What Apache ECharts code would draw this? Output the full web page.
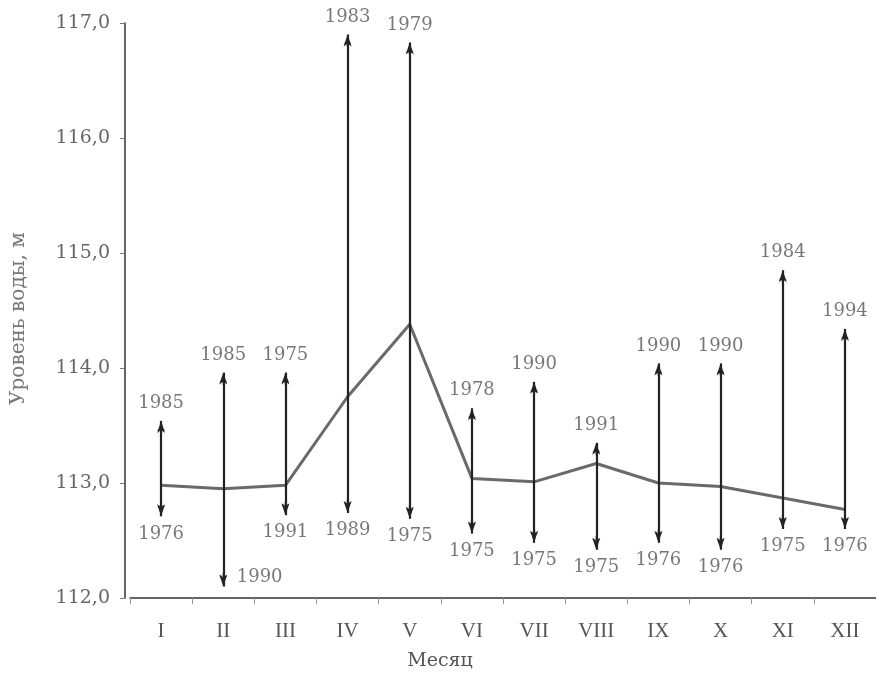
<!DOCTYPE html>
<html>
<head>
<meta charset="utf-8">
<script src="https://cdn.jsdelivr.net/npm/echarts@6/dist/echarts.min.js"></script>
<style>html,body{margin:0;padding:0;background:#fff}#c{width:876px;height:675px}</style>
</head>
<body>
<div id="c"></div>
<script>
const months = ['I','II','III','IV','V','VI','VII','VIII','IX','X','XI','XII'];
const meanLevel = [112.98,112.95,112.98,113.75,114.38,113.04,113.01,113.17,113.0,112.97,112.87,112.77];
const maxLevel = [113.54,113.96,113.96,116.9,116.83,113.65,113.88,113.35,114.04,114.04,114.85,114.34];
const minLevel = [112.71,112.1,112.72,112.74,112.69,112.56,112.48,112.42,112.48,112.42,112.6,112.6];
const maxYear = ['1985','1985','1975','1983','1979','1978','1990','1991','1990','1990','1984','1994'];
const minYear = ['1976','1990','1991','1989','1975','1975','1975','1975','1976','1976','1975','1976'];
const yTicks = [112,113,114,115,116,117];

const serifWide = 'DejaVu Serif';
const serif = 'Liberation Serif';
const textColor = '#555';
const plusPath = 'path://M2,0h2v2h2v2h-2v2h-2v-2h-2v-2h2z';

const rangeLines = months.map((m, i) => [
  {coord: [i, minLevel[i]]},
  {coord: [i, maxLevel[i]]}
]);

const chart = echarts.init(document.getElementById('c'));
chart.setOption({
  backgroundColor: '#fff',
  animation: false,
  grid: {left: 130, right: 0, top: 23, bottom: 77, outerBoundsMode: 'none', containLabel: false},
  xAxis: {
    type: 'category',
    data: months,
    boundaryGap: true,
    name: 'Месяц',
    nameLocation: 'middle',
    nameGap: 54,
    nameTextStyle: {fontFamily: serifWide, fontSize: 19, color: textColor, padding: [0, 126, 0, 0]},
    axisLine: {lineStyle: {color: '#333', width: 1.5}},
    axisTick: {show: true, length: 6, inside: false, lineStyle: {color: '#999'}},
    axisLabel: {fontFamily: serif, fontSize: 21, color: textColor, margin: 23}
  },
  yAxis: {
    type: 'value',
    min: yTicks[0], max: yTicks[yTicks.length - 1], interval: 1,
    offset: 5,
    name: 'Уровень воды, м',
    nameLocation: 'middle',
    nameGap: 96,
    nameRotate: 90,
    nameTextStyle: {fontFamily: serifWide, fontSize: 20, color: '#777', padding: [0, 16, 0, 0]},
    axisLine: {show: true, lineStyle: {color: '#333', width: 1.5}},
    axisTick: {show: true, length: 5, lineStyle: {color: '#777'}},
    splitLine: {show: false},
    axisLabel: {
      fontFamily: serifWide, fontSize: 19, color: '#666', margin: 15,
      formatter: v => v.toFixed(1).replace('.', ',')
    }
  },
  series: [
    {
      type: 'line',
      data: meanLevel,
      symbol: 'none',
      lineStyle: {color: '#6a6a6a', width: 3},
      z: 2,
      markLine: {
        silent: true,
        symbol: ['arrow', 'arrow'],
        symbolSize: [6, 12],
        label: {show: false},
        lineStyle: {color: '#222', width: 2.2, type: 'solid'},
        data: rangeLines,
        z: 3
      }
    },
    {
      type: 'scatter',
      symbol: plusPath,
      symbolSize: 7,
      symbolOffset: [0, 9],
      itemStyle: {color: '#999'},
      z: 1,
      data: maxLevel.map((v, i) => [i, v]),
      label: {
        show: true, position: 'top', distance: 14,
        fontFamily: serifWide, fontSize: 18, color: textColor,
        formatter: p => maxYear[p.dataIndex]
      }
    },
    {
      type: 'scatter',
      symbol: plusPath,
      symbolSize: 7,
      symbolOffset: [0, -10],
      itemStyle: {color: '#999'},
      z: 1,
      data: minLevel.map((v, i) => i === 1
        ? {value: [i, v], label: {position: 'right', distance: 10, offset: [0, 1]}}
        : [i, v]),
      label: {
        show: true, position: 'bottom', distance: 15,
        fontFamily: serifWide, fontSize: 18, color: textColor,
        formatter: p => minYear[p.dataIndex]
      }
    }
  ]
});
</script>
</body>
</html>
